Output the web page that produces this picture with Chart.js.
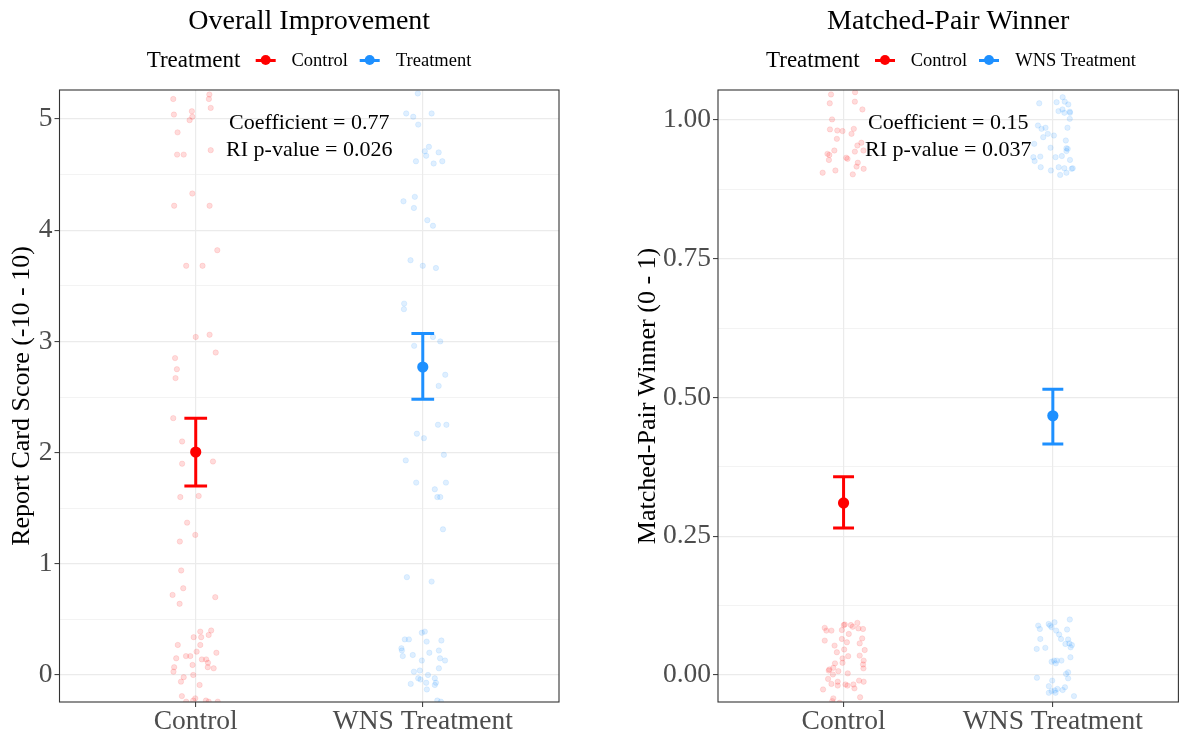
<!DOCTYPE html>
<html><head><meta charset="utf-8">
<script src="https://cdn.jsdelivr.net/npm/chart.js@4.4.0/dist/chart.umd.min.js"></script>
<style>
html,body{margin:0;padding:0;background:#fff;}
#wrap{position:relative;width:1184px;height:733px;overflow:hidden;font-family:"Liberation Serif","Times New Roman",serif;}
canvas.panel{position:absolute;top:0;}
.legend{position:absolute;top:60px;display:flex;align-items:center;white-space:nowrap;transform:translate(-50%,-50%);color:#000;}
.lt{font-size:23px;margin-right:15px;}
.sym{position:relative;width:20px;height:12px;margin-right:16px;}
.sym::before{content:'';position:absolute;left:0;right:0;top:4.5px;height:3px;background:var(--c);}
.sym::after{content:'';position:absolute;left:5px;top:1px;width:10px;height:10px;border-radius:50%;background:var(--c);}
.li{font-size:18.5px;margin-right:12px;}
.li:last-child{margin-right:0;}
</style>
</head><body>
<div id="wrap">
  <canvas id="c1" class="panel" width="592" height="733" style="left:0"></canvas>
  <canvas id="c2" class="panel" width="592" height="733" style="left:592px"></canvas>
  <div class="legend" id="lg1" style="left:309px"></div>
  <div class="legend" id="lg2" style="left:951px"></div>
</div>
<script>
// ---------- data ----------
const categories = ['Control', 'WNS Treatment'];
const legendTitle = 'Treatment';
const legendOverall = ['Control', 'Treatment'];
const legendWinner = ['Control', 'WNS Treatment'];
const groupColors = ['#FF0000', '#1E90FF'];

const overallMean  = [2.005, 2.77];
const overallLower = [1.70, 2.48];
const overallUpper = [2.31, 3.07];
const winnerMean  = [0.310, 0.467];
const winnerLower = [0.265, 0.416];
const winnerUpper = [0.357, 0.515];

const overallAnnotation = ['Coefficient = 0.77', 'RI p-value = 0.026'];
const winnerAnnotation  = ['Coefficient = 0.15', 'RI p-value = 0.037'];

const overallYTicks = [0,0.5,1,1.5,2,2.5,3,3.5,4,4.5,5];
const overallYMajor = [0,1,2,3,4,5];
const winnerYTicks = [0,0.125,0.25,0.375,0.5,0.625,0.75,0.875,1];
const winnerYMajor = [0,0.25,0.5,0.75,1];

// jittered individual observations (value, horizontal jitter in category units)
const overallControlScore = [5.18,5.22,5.18,5.10,5.04,5.07,5.02,4.99,4.88,4.68,4.68,4.72,4.33,4.22,4.22,3.82,3.68,3.68,3.04,3.06,2.90,2.85,2.75,2.67,2.31,2.10,1.90,1.92,1.60,1.61,1.37,1.26,1.20,0.94,0.78,0.72,0.70,0.64,0.39,0.40,0.34,0.34,0.36,0.27,0.27,0.21,0.20,0.15,0.17,0.17,0.14,0.14,0.11,0.09,0.07,0.07,0.06,0.03,0.00,-0.02,-0.06,-0.09,-0.19,-0.21,-0.24,-0.23,-0.23,-0.24,-0.24];
const overallControlJitter = [-0.099,0.060,0.058,0.066,-0.096,-0.017,-0.015,-0.027,-0.080,-0.082,-0.053,0.066,-0.015,-0.095,0.061,0.095,-0.042,0.030,0.000,0.061,0.088,-0.091,-0.083,-0.089,-0.099,-0.060,-0.060,0.076,-0.068,0.013,-0.038,-0.002,-0.070,-0.064,-0.055,-0.102,0.086,-0.071,0.020,0.068,-0.009,0.024,0.057,-0.079,0.020,0.004,0.091,-0.086,-0.043,-0.024,0.027,0.046,0.054,-0.014,-0.095,0.053,0.079,-0.098,-0.011,-0.053,-0.065,0.017,-0.061,-0.002,-0.042,-0.011,0.045,0.057,0.097];
const overallTreatScore = [5.23,5.05,5.02,5.05,4.95,4.75,4.71,4.70,4.67,4.62,4.60,4.62,4.26,4.30,4.20,4.09,4.04,3.73,3.68,3.66,3.34,3.29,3.04,3.00,2.96,2.70,2.60,2.25,2.25,2.17,2.13,1.93,1.98,1.73,1.73,1.67,1.60,1.60,1.31,0.88,0.84,0.39,0.38,0.32,0.32,0.30,0.31,0.24,0.22,0.22,0.20,0.18,0.17,0.15,0.13,0.13,0.06,0.03,0.04,0.00,-0.03,-0.04,-0.03,-0.08,-0.07,-0.07,-0.09,-0.13,-0.23,-0.24];
const overallTreatJitter = [-0.022,-0.073,-0.042,0.039,-0.020,0.027,0.009,0.070,0.015,-0.030,0.048,0.086,-0.085,-0.035,-0.039,0.020,0.045,-0.054,0.000,0.058,-0.082,-0.083,0.045,0.077,-0.038,0.099,0.070,0.067,0.104,-0.026,0.005,-0.075,0.093,-0.029,0.102,0.053,0.064,0.077,0.089,-0.070,0.039,0.009,-0.004,-0.079,-0.061,0.017,0.082,-0.094,-0.092,0.071,0.029,-0.044,-0.088,0.076,0.098,-0.004,0.071,-0.039,-0.013,0.023,-0.020,-0.010,0.053,-0.053,0.015,0.058,0.053,0.018,0.064,0.080];

const winnerControlScore = [1.046,1.050,1.030,1.033,1.019,1.001,0.983,0.981,0.980,0.984,0.975,0.966,0.959,0.954,0.945,0.945,0.939,0.937,0.943,0.932,0.930,0.928,0.923,0.916,0.912,0.909,0.905,0.902,
 0.085,0.080,0.080,0.081,0.090,0.091,0.090,0.087,0.094,0.084,0.083,0.074,0.062,0.065,0.059,0.066,0.057,0.053,0.046,0.045,0.041,0.035,0.034,0.030,0.026,0.021,0.022,0.019,0.012,0.013,0.010,0.008,0.007,0.001,0.003,-0.007,-0.010,-0.012,-0.012,-0.016,-0.019,-0.017,-0.019,-0.017,-0.024,-0.026,-0.042,-0.040,-0.047,-0.050];
const winnerControlJitter = [-0.060,0.055,-0.066,0.054,0.090,-0.055,-0.065,-0.030,-0.005,0.049,0.038,-0.032,0.085,0.066,-0.044,0.095,-0.077,-0.068,0.054,0.013,0.019,-0.070,0.068,0.062,0.096,-0.039,-0.100,0.044,
 -0.090,-0.082,-0.058,-0.008,0.001,0.006,0.035,0.044,0.066,0.071,0.093,0.025,-0.090,-0.008,0.016,0.089,0.077,-0.043,0.003,0.101,-0.032,0.077,0.022,-0.005,0.096,-0.041,-0.005,0.093,0.095,-0.049,-0.068,-0.071,-0.025,-0.051,0.020,-0.074,0.074,0.096,-0.028,-0.058,-0.028,0.009,0.019,0.047,0.052,-0.098,-0.049,0.079,-0.054,-0.019];
const winnerTreatScore = [1.030,1.041,1.032,1.033,1.028,1.016,1.019,1.013,1.015,1.013,1.002,0.990,0.984,0.986,0.986,0.975,0.972,0.969,0.963,0.957,0.950,0.949,0.944,0.948,0.935,0.933,0.933,0.934,0.928,0.926,0.915,0.915,0.913,0.913,0.912,0.909,0.905,0.901,
 0.100,0.089,0.083,0.092,0.089,0.086,0.095,0.080,0.082,0.073,0.065,0.065,0.064,0.056,0.057,0.054,0.050,0.047,0.049,0.032,0.024,0.026,0.026,0.026,0.021,0.002,0.005,-0.006,-0.005,-0.010,-0.020,-0.025,-0.022,-0.027,-0.029,-0.028,-0.032,-0.032,-0.038];
const winnerTreatJitter = [-0.065,0.047,0.018,0.057,0.074,0.027,0.046,0.055,0.081,0.082,0.081,-0.071,-0.054,-0.035,0.070,-0.024,0.005,-0.046,0.062,-0.089,-0.011,0.065,0.065,0.071,0.043,0.013,-0.093,-0.060,0.082,-0.087,-0.058,0.028,0.055,0.095,0.090,-0.009,0.065,0.035,
 0.081,-0.070,-0.062,-0.020,-0.013,-0.006,0.008,0.016,0.068,0.030,-0.060,0.039,0.073,0.060,0.079,0.091,0.085,-0.077,-0.036,0.084,-0.006,0.006,0.019,0.041,0.014,0.063,0.073,0.073,-0.076,-0.003,-0.019,0.022,0.058,0.047,-0.006,0.009,-0.019,0.013,0.101];

// ---------- helpers ----------
const FONT = '"Liberation Serif", "Times New Roman", serif';
const CAP = 0.05;

function rgba(hex, a) {
  const n = parseInt(hex.slice(1), 16);
  return `rgba(${(n>>16)&255},${(n>>8)&255},${n&255},${a})`;
}

function buildDatasets(scores, jitters, means, lowers, uppers) {
  const ds = [];
  scores.forEach((sc, g) => {
    ds.push({
      type: 'scatter', order: 3, clip: 0,
      data: sc.map((v, i) => ({x: g + 1 + jitters[g][i], y: v})),
      pointRadius: 2.7, pointHoverRadius: 2.7,
      backgroundColor: rgba(groupColors[g], 0.14),
      borderColor: rgba(groupColors[g], 0.10), borderWidth: 1
    });
  });
  means.forEach((m, g) => {
    const c = g + 1;
    const segs = [
      [{x: c, y: lowers[g]}, {x: c, y: uppers[g]}],
      [{x: c - CAP, y: lowers[g]}, {x: c + CAP, y: lowers[g]}],
      [{x: c - CAP, y: uppers[g]}, {x: c + CAP, y: uppers[g]}]
    ];
    segs.forEach(s => ds.push({
      type: 'scatter', order: 2, showLine: true, data: s,
      borderColor: groupColors[g], borderWidth: 3, pointRadius: 0, borderCapStyle: 'butt'
    }));
    ds.push({
      type: 'scatter', order: 1, data: [{x: c, y: m}],
      pointRadius: 5.6, backgroundColor: groupColors[g], borderColor: groupColors[g], borderWidth: 0
    });
  });
  return ds;
}

const panelBox = {
  id: 'panelBox',
  afterDraw(chart) {
    const {ctx, chartArea: a} = chart;
    ctx.save();
    ctx.strokeStyle = '#333333';
    ctx.lineWidth = 1.1;
    ctx.strokeRect(a.left, a.top, a.right - a.left, a.bottom - a.top);
    ctx.restore();
  }
};

const annot = {
  id: 'annot',
  afterDatasetsDraw(chart, args, opts) {
    const {ctx, scales: {x, y}} = chart;
    ctx.save();
    ctx.font = '22px ' + FONT;
    ctx.fillStyle = '#000';
    ctx.textAlign = 'center';
    ctx.textBaseline = 'middle';
    opts.lines.forEach((t, i) => ctx.fillText(t, x.getPixelForValue(opts.x), y.getPixelForValue(opts.y[i])));
    ctx.restore();
  }
};

function makeChart(id, cfg) {
  const isMajor = v => cfg.major.some(m => Math.abs(m - v) < 1e-9);
  return new Chart(document.getElementById(id), {
    type: 'scatter',
    data: {datasets: cfg.datasets},
    options: {
      responsive: false, animation: false, devicePixelRatio: 1,
      layout: {padding: {left: 0, right: cfg.padRight, top: 0, bottom: 0}},
      plugins: {
        legend: {display: false}, tooltip: {enabled: false},
        title: {display: true, fullSize: false, text: cfg.title, color: '#000',
          font: {family: FONT, size: 28, weight: 'normal'}, padding: {top: 5, bottom: 51.4}},
        annot: {lines: cfg.annotation, x: 1.5, y: cfg.annotY}
      },
      scales: {
        x: {
          type: 'linear', min: 0.4, max: 2.6,
          afterBuildTicks: s => { s.ticks = categories.map((c, i) => ({value: i + 1})); },
          afterFit: s => { s.height = 31; },
          ticks: {callback: v => categories[Math.round(v) - 1], color: '#4d4d4d',
            font: {family: FONT, size: 27.5}, padding: -2, maxRotation: 0, autoSkip: false},
          grid: {color: '#ebebeb', lineWidth: 1.2, tickLength: 5, tickColor: '#333', tickWidth: 1},
          border: {display: false}
        },
        y: {
          type: 'linear', min: cfg.ymin, max: cfg.ymax,
          afterBuildTicks: s => { s.ticks = cfg.ticks.map(v => ({value: v})); },
          afterFit: s => { s.width = cfg.yWidth; },
          ticks: {callback: v => isMajor(v) ? cfg.fmt(v) : '', color: '#4d4d4d',
            font: {family: FONT, size: 27.5}, padding: 2, autoSkip: false},
          grid: {
            color: '#ebebeb',
            lineWidth: c => isMajor(c.tick.value) ? 1.2 : 0.6,
            tickLength: 5,
            tickColor: c => isMajor(c.tick.value) ? '#333' : 'rgba(0,0,0,0)',
            tickWidth: 1
          },
          border: {display: false},
          title: {display: true, text: cfg.yTitle, color: '#000',
            font: {family: FONT, size: 26, weight: 'normal'}, padding: {top: cfg.yTitlePad, bottom: 0}}
        }
      }
    },
    plugins: [panelBox, annot]
  });
}

makeChart('c1', {
  title: 'Overall Improvement',
  yTitle: 'Report Card Score (-10 - 10)',
  datasets: buildDatasets([overallControlScore, overallTreatScore], [overallControlJitter, overallTreatJitter],
    overallMean, overallLower, overallUpper),
  ymin: -0.243, ymax: 5.261, ticks: overallYTicks, major: overallYMajor, fmt: v => String(v),
  yWidth: 59.5, padRight: 33, yTitlePad: 7,
  annotation: overallAnnotation, annotY: [4.96, 4.72]
});

makeChart('c2', {
  title: 'Matched-Pair Winner',
  yTitle: 'Matched-Pair Winner (0 - 1)',
  datasets: buildDatasets([winnerControlScore, winnerTreatScore], [winnerControlJitter, winnerTreatJitter],
    winnerMean, winnerLower, winnerUpper),
  ymin: -0.0486, ymax: 1.054, ticks: winnerYTicks, major: winnerYMajor, fmt: v => v.toFixed(2),
  yWidth: 126, padRight: 2, yTitlePad: 41,
  annotation: winnerAnnotation, annotY: [0.994, 0.946]
});

function buildLegend(id, labels) {
  const el = document.getElementById(id);
  let html = `<span class="lt">${legendTitle}</span>`;
  labels.forEach((l, i) => {
    html += `<span class="sym" style="--c:${groupColors[i]}"></span><span class="li">${l}</span>`;
  });
  el.innerHTML = html;
}
buildLegend('lg1', legendOverall);
buildLegend('lg2', legendWinner);
</script>
</body></html>
